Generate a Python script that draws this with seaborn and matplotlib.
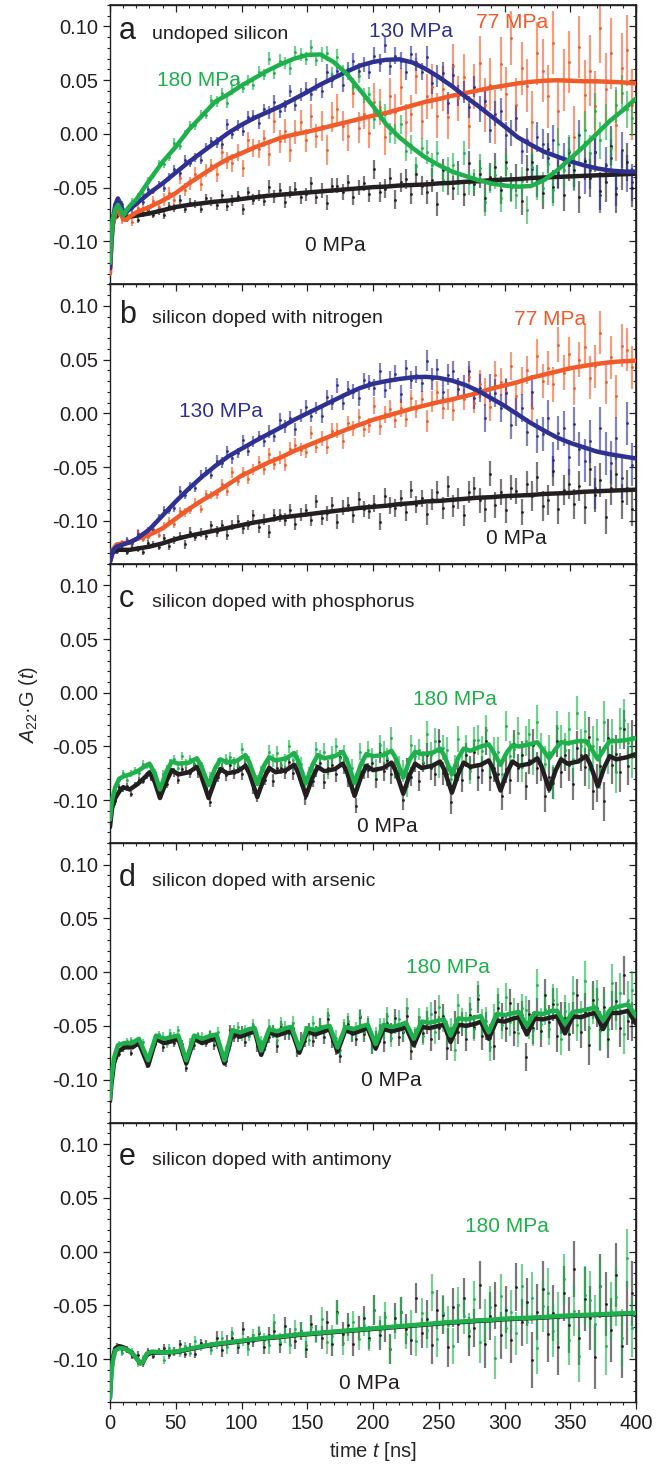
import numpy as np
import matplotlib
matplotlib.use("Agg")
import matplotlib.pyplot as plt
import seaborn as sns
from matplotlib.ticker import MultipleLocator, FormatStrFormatter, NullFormatter
from matplotlib.colors import to_rgba

# ------------------------------------------------------------------
# values, asymmetry in units of 1e-3
# ------------------------------------------------------------------
t_pts = np.arange(1, 400, 4)   # measured points of panels a, b, e
t_osc = np.arange(1, 400, 3)   # measured points of panels c, d

# ---- panel a : undoped silicon ----
t_fit_a = [0, 1, 2, 4, 6, 8, 10, 12, 15, 20] + list(range(30, 401, 10))
fit_a_black = [-125, -102, -85, -75, -71, -74, -78, -78, -77, -76,
               -74, -71, -68, -66, -64.5, -63, -62, -60.5, -59, -57.5, -56.5, -55.5, -54.5,
               -53.5, -52.5, -51.5, -50.5, -49.5, -49, -48, -47.5, -47, -46, -45.5, -44.5,
               -44, -43, -42.5, -42, -41, -40.5, -40, -39.5, -39, -38.5, -38, -37.5, -37]
fit_a_orange = [-130, -105, -85, -74, -70, -74, -79, -80, -77, -73,
                -68, -62, -55, -46, -38, -30, -23, -18, -12.5, -8, -3.5, -0.5, 2, 5, 8,
                11, 14, 17, 19.5, 23, 26.5, 30, 32.5, 35.5, 38, 40.5, 43, 45, 47, 48.5,
                49.5, 50, 49.5, 49, 49, 48.5, 48, 47]
fit_a_blue = [-125, -100, -80, -66, -60, -65, -72, -73, -70, -65,
              -55, -46, -36, -26, -17, -8, 1, 8.5, 15, 20.5, 26, 32.5, 39, 46, 52, 58,
              63.5, 67, 69, 69.5, 66.5, 60.5, 53, 44.5, 35, 26, 16.5, 7, -3, -10, -16.5,
              -21, -25.5, -29, -32, -34, -35, -35]
fit_a_green = [-120, -95, -80, -70, -66, -70, -76, -72, -67, -61,
               -43, -26, -12, 4, 17, 30, 37, 45, 52, 59, 65, 70, 73.5, 74, 67, 56, 41, 26,
               9, -3, -13, -22, -29, -35, -39, -43, -46, -48, -49, -48.5, -43, -34, -23,
               -12, 0, 12, 22, 33]

a_black = [-104, -76, -72, -79, -75, -80, -74, -71, -75, -72,
           -75, -67, -69, -61, -70, -64, -65, -70, -60, -63,
           -66, -57, -67, -62, -58, -70, -54, -61, -57, -62,
           -49, -58, -52, -63, -54, -51, -59, -56, -46, -59,
           -53, -64, -48, -48, -54, -45, -59, -50, -46, -56,
           -33, -54, -51, -41, -61, -45, -42, -56, -37, -48,
           -54, -43, -65, -34, -46, -50, -36, -56, -27, -47,
           -37, -60, -40, -31, -52, -26, -49, -41, -62, -33,
           -26, -44, -55, -14, -49, -35, -57, -29, -34, -59,
           -25, -41, -17, -53, -45, -11, -56, -34, -26, -50]
a_orange = [-107, -66, -80, -78, -82, -69, -69, -70, -62, -68,
            -61, -55, -61, -41, -52, -46, -37, -47, -34, -29,
            -37, -17, -25, -27, -17, -32, -6, -13, -14, -4,
            -19, 12, -7, 3, -15, 2, 11, -6, 17, -2,
            7, -15, 16, 23, 7, -2, 38, 6, 19, 1,
            30, 25, -3, 35, 20, 44, 11, 19, 54, 12,
            35, 44, 17, 42, 16, 63, 33, 53, 7, 44,
            66, 27, 46, 16, 65, 37, 89, 27, 61, 45,
            11, 75, 59, 35, 85, 21, 50, 67, -3, 81,
            36, 59, 26, 99, 42, 75, 8, 61, 78, 27]
a_blue = [-101, -68, -65, -72, -69, -62, -63, -51, -53, -47,
          -50, -40, -33, -36, -24, -27, -22, -24, -12, -7,
          -8, -9, 9, 0, 8, 3, 16, 17, 10, 23,
          20, 30, 21, 26, 40, 27, 37, 42, 37, 46,
          40, 58, 50, 59, 46, 60, 68, 59, 65, 58,
          73, 66, 83, 63, 73, 68, 58, 74, 67, 58,
          72, 47, 54, 57, 29, 55, 36, 39, 25, 44,
          23, 31, 4, 19, 21, -1, 1, 15, -16, -6,
          -33, -3, -9, -22, -6, -37, -22, -17, -38, -1,
          -39, -34, -17, -57, -29, -22, -50, -15, -37, -45]
a_green = [-90, -70, -72, -73, -63, -58, -56, -43, -38, -27,
           -28, -21, -8, -11, 0, 8, 8, 18, 18, 32,
           30, 38, 29, 41, 48, 43, 50, 46, 58, 55,
           70, 57, 68, 66, 61, 76, 74, 70, 81, 69,
           74, 75, 55, 72, 57, 57, 44, 54, 36, 37,
           14, 22, 19, 1, 0, 9, -16, -10, -30, -13,
           -17, -29, -18, -43, -32, -29, -46, -18, -46, -44,
           -32, -63, -42, -38, -60, -32, -50, -57, -44, -71,
           -31, -46, -50, -28, -52, -9, -34, -16, -38, -13,
           4, -18, 21, -6, 11, -13, 27, 38, 23, 15]
# error bar half-lengths per 40 ns block
err_a_black = [3, 4, 5, 6, 7, 9, 11, 13, 15, 18]
err_a_orange = [4, 6, 8, 11, 14, 17, 21, 25, 29, 33]
err_a_blue = [3, 4, 5, 6, 7, 8, 10, 12, 14, 17]
err_a_green = [3, 4, 5, 6, 7, 9, 11, 13, 15, 17]

# ---- panel b : nitrogen ----
t_fit_b = [0, 2, 5, 10, 15, 20] + list(range(30, 401, 10))
fit_b_black = [-138, -130, -127, -127, -127, -126,
               -124, -121, -117, -114, -111.5, -109, -106.5, -104, -101.5, -99.5, -97,
               -95.5, -94, -92.5, -91, -89.5, -88, -87, -86, -84.5, -83.5, -82, -81.5,
               -80.5, -79.5, -78.5, -78, -77, -76.5, -76, -75, -74.5, -74, -73, -72.5,
               -72, -71.5, -71]
fit_b_orange = [-138, -127, -122, -121, -120, -117,
                -113, -107, -98, -89, -81, -74, -66, -58, -52, -46, -41, -35, -30, -25,
                -20, -15, -10.5, -6, -2.5, 1, 4.5, 7.5, 10.5, 13, 16, 19, 23, 26, 29, 33,
                36, 39, 42, 44, 46, 47.5, 48.5, 49]
fit_b_blue = [-138, -128, -124, -122, -120, -117,
              -108, -95, -82, -70, -59, -49, -40, -33, -26, -19.5, -13, -6, 0, 6, 12, 18,
              23.5, 27.5, 30, 32, 33.5, 34, 33, 30.5, 26.5, 21, 14, 7, -1, -9, -16, -22.5,
              -27.5, -31.5, -35.5, -38, -40, -42]

b_black = [-132, -128, -122, -129, -125, -126, -129, -121, -122, -124,
           -116, -123, -118, -114, -122, -110, -115, -111, -114, -104,
           -110, -104, -113, -104, -100, -107, -104, -95, -106, -99,
           -110, -95, -95, -99, -90, -103, -94, -90, -99, -82,
           -97, -93, -85, -101, -88, -85, -95, -80, -89, -91,
           -84, -101, -77, -86, -88, -79, -92, -71, -85, -79,
           -94, -80, -73, -88, -68, -86, -79, -95, -73, -69,
           -81, -89, -56, -85, -73, -90, -69, -72, -92, -66,
           -77, -59, -86, -81, -54, -89, -71, -66, -84, -68,
           -87, -52, -76, -62, -96, -69, -56, -82, -69, -89]
b_orange = [-129, -125, -121, -119, -121, -111, -117, -115, -108, -113,
            -105, -100, -103, -91, -92, -90, -83, -89, -75, -76,
            -75, -66, -72, -55, -63, -55, -61, -52, -45, -52,
            -38, -47, -41, -48, -33, -29, -34, -36, -18, -31,
            -23, -31, -16, -16, -26, -9, -14, -3, -15, -11,
            7, -12, -1, 4, -6, 5, -5, 14, 4, 13,
            -7, 11, 20, 5, 13, 3, 23, 13, 34, 10,
            27, 20, 6, 36, 29, 20, 44, 16, 30, 40,
            5, 53, 30, 42, 27, 64, 38, 55, 24, 50,
            62, 33, 44, 75, 29, 52, 16, 63, 59, 43]
b_blue = [-131, -128, -122, -118, -121, -112, -115, -109, -109, -97,
          -90, -90, -88, -72, -76, -68, -69, -57, -54, -57,
          -44, -46, -35, -42, -37, -25, -35, -26, -21, -26,
          -17, -21, -6, -12, -4, -15, -2, 6, -2, 5,
          -2, 15, 10, 26, 10, 23, 20, 14, 31, 29,
          24, 39, 22, 31, 37, 18, 42, 31, 36, 28,
          49, 32, 41, 20, 36, 39, 23, 26, 39, 14,
          24, -4, 24, 19, 5, 19, -11, 1, 5, -17,
          20, -21, -19, -4, -43, -18, -14, -41, -10, -33,
          -44, -26, -69, -14, -37, -46, -23, -60, -9, -48]
err_b_black = [3, 4, 5, 6, 7, 8, 10, 12, 14, 16]
err_b_orange = [3, 4, 5, 6, 7, 8, 10, 13, 16, 20]
err_b_blue = [3, 4, 5, 6, 7, 8, 10, 13, 16, 20]

# ---- panel c : phosphorus ----
t_fit_c = [0, 1.5, 4, 7, 10, 15, 21, 27, 30, 34, 38,
           43, 47, 52, 60, 66, 69, 75, 80, 84, 89, 97, 103, 106, 112,
           117, 121, 126, 134, 140, 143, 149, 154, 158, 163, 171, 177, 180, 186,
           191, 195, 200, 208, 214, 217, 223, 228, 232, 237, 245, 251, 254, 260,
           265, 269, 274, 282, 288, 291, 297, 302, 306, 311, 319, 325, 328, 334,
           339, 343, 348, 356, 362, 365, 371, 376, 380, 385, 393, 400]
fit_c_black = [-125, -108, -98, -92, -88, -90, -85, -78, -74, -83, -98,
               -82, -72, -76, -74, -69, -76, -98, -81, -71, -75, -73, -68, -75, -97,
               -80, -70, -74, -72, -67, -74, -96, -79, -69, -73, -71, -66, -73, -96,
               -78, -68, -72, -70, -65, -72, -94, -76, -66, -70, -68, -64, -71, -93,
               -75, -65, -69, -67, -63, -70, -91, -74, -64, -68, -66, -61, -68, -90,
               -72, -62, -66, -64, -59, -66, -87, -69, -59, -62, -60, -57]
fit_c_green = [-118, -100, -88, -80, -78, -76, -73, -68, -66, -75, -90,
               -73, -64, -66, -65, -61, -67, -86, -70, -62, -65, -63, -58, -65, -85,
               -68, -60, -63, -61, -56, -63, -84, -67, -58, -61, -59, -55, -62, -84,
               -66, -57, -59, -58, -54, -60, -79, -62, -55, -57, -56, -52, -58, -76,
               -60, -52, -54, -50, -48, -54, -67, -55, -49, -50, -48, -46, -51, -61,
               -52, -46, -47, -45, -45, -50, -62, -52, -45, -45, -44, -42]

c_black = [-113, -101, -88, -89, -87, -94, -86, -81, -82, -77, -79, -81, -95,
           -84, -85, -72, -74, -81, -71, -73, -75, -66, -75, -80, -89, -102,
           -78, -78, -70, -77, -67, -75, -69, -76, -66, -70, -89, -97, -80, -81,
           -69, -82, -70, -70, -74, -64, -75, -70, -81, -98, -78, -82,
           -72, -65, -83, -70, -67, -76, -60, -69, -81, -86, -105, -73,
           -73, -72, -65, -80, -56, -73, -63, -76, -70, -75, -100, -70,
           -78, -65, -82, -65, -58, -70, -76, -45, -75, -76, -102, -77,
           -71, -81, -58, -70, -55, -78, -72, -45, -78, -70, -76, -96,
           -71, -81, -48, -70, -58, -87, -63, -49, -70, -67, -96, -78,
           -84, -45, -74, -58, -67, -85, -51, -58, -69, -41, -91, -84,
           -68, -101, -42, -67, -57, -74, -34, -68, -43]
c_green = [-100, -90, -81, -75, -81, -75, -72, -75, -66, -68, -70, -74, -95,
           -76, -71, -66, -62, -70, -59, -66, -62, -66, -64, -68, -83, -78,
           -76, -66, -70, -62, -60, -65, -68, -52, -61, -64, -81, -82, -73, -73,
           -55, -63, -56, -67, -63, -50, -63, -59, -66, -85, -75, -72,
           -52, -61, -55, -72, -58, -50, -61, -57, -75, -70, -83, -55,
           -68, -53, -59, -72, -49, -55, -61, -42, -70, -69, -73, -87,
           -49, -59, -53, -64, -38, -58, -45, -67, -51, -53, -80, -70,
           -43, -65, -51, -73, -44, -44, -54, -35, -65, -55, -55, -76,
           -31, -59, -52, -37, -69, -45, -38, -61, -27, -53, -66, -55,
           -83, -33, -46, -53, -34, -62, -19, -50, -36, -71, -50, -43,
           -71, -27, -57, -43, -74, -33, -25, -47, -60]
err_c_black = [3, 4, 5, 6, 7, 9, 11, 13, 15, 18]
err_c_green = [3, 4, 5, 6, 8, 10, 12, 14, 16, 19]

# ---- panel d : arsenic ----
t_fit_d = [0, 1, 3, 6, 11, 17, 22, 29,
           35, 41, 48, 52, 58, 64, 70, 77, 81, 87, 93, 99, 106, 110, 115,
           121, 127, 134, 138, 144, 150, 156, 163, 167, 173, 179, 185, 192, 196, 202,
           208, 214, 221, 225, 231, 237, 243, 250, 254, 259, 265, 271, 278, 282, 288,
           294, 300, 307, 311, 317, 323, 329, 336, 340, 346, 352, 358, 365, 369, 375,
           381, 387, 394, 400]
fit_d_black = [-120, -105, -85, -74, -70, -70, -66, -87,
               -62, -66, -64, -62, -85, -62, -66, -63, -62, -85, -57, -60, -57, -55, -77,
               -56, -59, -56, -54, -75, -55, -58, -55, -53, -74, -54, -57, -54, -52, -71,
               -53, -55, -53, -51, -68, -51, -52, -50, -49, -65, -49, -50, -48, -46, -62,
               -45, -46, -43, -42, -58, -43, -44, -42, -41, -57, -41, -42, -39, -38, -53,
               -38, -38, -36, -48]
fit_d_green = [-118, -100, -80, -68, -66, -66, -62, -82,
               -59, -62, -60, -59, -82, -59, -62, -59, -58, -82, -54, -56, -53, -52, -73,
               -53, -55, -52, -51, -71, -52, -54, -51, -50, -70, -51, -53, -50, -49, -67,
               -49, -51, -49, -47, -62, -46, -47, -45, -44, -59, -43, -44, -42, -41, -56,
               -39, -40, -38, -37, -50, -38, -39, -36, -36, -48, -37, -36, -34, -33, -45,
               -34, -32, -30, -41]

d_black = [-107, -77, -76, -71, -68, -75, -65, -67, -74, -86, -74, -67, -61,
           -70, -64, -61, -66, -62, -67, -89, -72, -68, -61, -64, -66, -59,
           -68, -66, -76, -83, -54, -60, -60, -55, -65, -56, -52, -69, -70, -68,
           -60, -55, -69, -51, -57, -57, -52, -73, -62, -64, -53, -64,
           -56, -50, -60, -44, -64, -70, -78, -53, -48, -58, -62, -42,
           -58, -50, -69, -64, -57, -65, -47, -56, -43, -60, -56, -41,
           -73, -62, -50, -57, -47, -62, -37, -52, -41, -71, -62, -47,
           -56, -48, -62, -40, -51, -25, -59, -50, -61, -69, -33, -42,
           -52, -29, -56, -42, -40, -79, -39, -52, -39, -55, -21, -46,
           -30, -59, -43, -43, -58, -43, -21, -56, -37, -68, -26, -33,
           -54, -32, -62, -36, -27, -52, -3, -45, -46]
d_green = [-96, -78, -67, -71, -64, -63, -65, -65, -65, -81, -74, -66, -58,
           -60, -67, -57, -60, -54, -74, -84, -65, -63, -60, -60, -63, -58,
           -63, -56, -77, -74, -68, -54, -51, -59, -54, -59, -49, -62, -64, -68,
           -50, -55, -63, -48, -51, -55, -47, -70, -68, -56, -63, -47,
           -56, -50, -56, -40, -58, -61, -72, -51, -45, -57, -53, -41,
           -56, -48, -69, -60, -52, -52, -41, -61, -49, -44, -55, -33,
           -62, -60, -42, -59, -43, -39, -56, -32, -45, -56, -54, -72,
           -31, -44, -48, -34, -53, -21, -47, -45, -70, -43, -28, -49,
           -23, -46, -37, -57, -33, -35, -49, -54, -12, -48, -34, -53,
           -26, -30, -62, -36, -44, -19, -49, -42, -8, -52, -30, -25,
           -55, -36, -53, -10, -36, -19, -58, -26, -17]
err_d_black = [3, 4, 5, 6, 7, 9, 11, 13, 15, 18]
err_d_green = [3, 4, 5, 6, 7, 9, 11, 13, 15, 18]

# ---- panel e : antimony ----
t_fit_e = [0, 1, 2, 4, 7, 10, 14, 17, 20, 23, 25, 28, 32, 40] + list(range(50, 401, 10))
fit_e_black = [-136, -112, -100, -90, -88, -89, -92, -95, -99, -104, -103, -96, -94, -94,
               -93.5, -91, -88.5, -86.5, -85, -83.5, -82, -80.5, -79.5, -78, -77, -76,
               -75, -74, -73, -72, -71, -70, -69, -68, -67, -66, -65.5, -64.5, -64, -63,
               -62.5, -62, -61.5, -60.5, -60, -59.5, -59, -58.5, -58, -57.5]
fit_e_green = [-136, -114, -103, -92, -90, -90, -92, -95, -99, -104, -103, -95, -93, -94,
               -93, -90.5, -88, -86, -84.5, -83, -81.5, -80, -79, -77.5, -76.5, -75.5,
               -74.5, -73.5, -72.5, -71.5, -70.5, -69.5, -68.5, -67.5, -66.5, -65.5, -65,
               -64, -63.5, -62.5, -62, -61.5, -61, -60, -59.5, -59, -58.5, -58, -57.5, -57]

e_black = [-119, -88, -91, -91, -97, -96, -104, -93, -97, -93,
           -90, -96, -93, -86, -95, -89, -95, -85, -86, -88,
           -80, -92, -84, -80, -89, -72, -85, -83, -76, -89,
           -78, -74, -86, -69, -79, -83, -74, -91, -67, -76,
           -80, -66, -86, -56, -77, -68, -86, -71, -62, -80,
           -54, -78, -70, -91, -62, -56, -72, -82, -43, -76,
           -63, -87, -54, -59, -89, -52, -67, -43, -79, -71,
           -31, -86, -60, -50, -78, -54, -82, -33, -66, -47,
           -101, -56, -35, -77, -57, -89, -39, -68, -16, -80,
           -44, -62, -98, -32, -49, -73, -22, -88, -57, -39]
e_green = [-115, -88, -94, -91, -93, -104, -99, -95, -95, -93,
           -101, -90, -93, -94, -88, -94, -83, -89, -86, -92,
           -85, -80, -89, -76, -87, -82, -91, -78, -75, -82,
           -87, -66, -84, -77, -87, -72, -74, -87, -70, -77,
           -63, -84, -79, -57, -85, -72, -66, -81, -68, -82,
           -54, -74, -61, -91, -67, -56, -77, -68, -83, -57,
           -73, -38, -81, -57, -68, -88, -50, -60, -74, -44,
           -84, -64, -52, -99, -41, -71, -56, -76, -32, -66,
           -43, -90, -51, -39, -74, -62, -26, -82, -55, -97,
           -40, -45, -67, -32, -88, -55, -42, -80, -6, -71]
err_e_black = [3, 4, 6, 8, 11, 14, 18, 22, 26, 30]
err_e_green = [3, 4, 6, 8, 11, 14, 17, 20, 24, 27]

# ------------------------------------------------------------------
BLACK = "#231f20"
ORANGE = "#f15a29"
BLUE = "#2e3192"
GREEN = "#1db04b"

panels = [
    dict(letter="a", title="undoped silicon", base=0.088, t=t_pts,
         series=[(a_black, err_a_black, t_fit_a, fit_a_black, BLACK),
                 (a_orange, err_a_orange, t_fit_a, fit_a_orange, ORANGE),
                 (a_blue, err_a_blue, t_fit_a, fit_a_blue, BLUE),
                 (a_green, err_a_green, t_fit_a, fit_a_green, GREEN)],
         labels=[("180 MPa", 68, 0.050, GREEN), ("130 MPa", 229, 0.095, BLUE),
                 ("77 MPa", 306, 0.104, ORANGE), ("0 MPa", 171, -0.104, BLACK)]),
    dict(letter="b", title="silicon doped with nitrogen", base=0.084, t=t_pts,
         series=[(b_black, err_b_black, t_fit_b, fit_b_black, BLACK),
                 (b_orange, err_b_orange, t_fit_b, fit_b_orange, ORANGE),
                 (b_blue, err_b_blue, t_fit_b, fit_b_blue, BLUE)],
         labels=[("130 MPa", 84, 0.0015, BLUE), ("77 MPa", 335, 0.087, ORANGE),
                 ("0 MPa", 309, -0.116, BLACK)]),
    dict(letter="c", title="silicon doped with phosphorus", base=0.080, t=t_osc,
         series=[(c_black, err_c_black, t_fit_c, fit_c_black, BLACK),
                 (c_green, err_c_green, t_fit_c, fit_c_green, GREEN)],
         labels=[("180 MPa", 262, -0.006, GREEN), ("0 MPa", 211, -0.124, BLACK)]),
    dict(letter="d", title="silicon doped with arsenic", base=0.080, t=t_osc,
         series=[(d_black, err_d_black, t_fit_d, fit_d_black, BLACK),
                 (d_green, err_d_green, t_fit_d, fit_d_green, GREEN)],
         labels=[("180 MPa", 257, 0.004, GREEN), ("0 MPa", 214, -0.101, BLACK)]),
    dict(letter="e", title="silicon doped with antimony", base=0.081, t=t_pts,
         series=[(e_black, err_e_black, t_fit_e, fit_e_black, BLACK),
                 (e_green, err_e_green, t_fit_e, fit_e_green, GREEN)],
         labels=[("180 MPa", 302, 0.023, GREEN), ("0 MPa", 197, -0.123, BLACK)]),
]

sns.set_theme(style="ticks")
plt.rcParams["font.family"] = ["Liberation Sans", "DejaVu Sans"]
plt.rcParams["mathtext.fontset"] = "custom"
plt.rcParams["mathtext.rm"] = "Liberation Sans"
plt.rcParams["mathtext.it"] = "Liberation Sans:italic"
plt.rcParams["axes.unicode_minus"] = False

W, H = 672, 1470
fig = plt.figure(figsize=(W / 100, H / 100), dpi=100)
left, right = 110 / W, 636 / W
ph = 279.4 / H
bottom0 = (H - 1402) / H

axes = []
for i, p in enumerate(panels):
    ax = fig.add_axes([left, bottom0 + (4 - i) * ph, right - left, ph])
    axes.append(ax)

    # measured points with error bars
    for y, eb, _, _, col in p["series"]:
        yv = np.array(y) / 1000
        err = np.array(eb)[p["t"] // 40] / 1000
        ax.errorbar(p["t"], yv, yerr=err, fmt="o", ms=2.0, mfc=col, mec=col, mew=0,
                    ecolor=to_rgba(col, 0.6), elinewidth=1.6, capsize=0, zorder=2)
    # fit curves
    for _, _, tf, yf, col in p["series"]:
        sns.lineplot(x=tf, y=np.array(yf) / 1000, ax=ax, color=col, lw=3.2,
                     estimator=None, zorder=3)

    for txt, tx, ty, col in p["labels"]:
        ax.text(tx, ty, txt, color=col, fontsize=15, ha="center", va="center", zorder=5)
    ax.text(7, p["base"], p["letter"], fontsize=22, ha="left", va="baseline", color=BLACK)
    ax.text(32, p["base"], p["title"], fontsize=14, ha="left", va="baseline", color=BLACK)

    ax.set_xlim(0, 400)
    ax.set_ylim(-0.14, 0.12)
    ax.set_xlabel("")
    ax.set_ylabel("")
    ax.xaxis.set_major_locator(MultipleLocator(50))
    ax.xaxis.set_minor_locator(MultipleLocator(10))
    ax.yaxis.set_major_locator(MultipleLocator(0.05))
    ax.yaxis.set_minor_locator(MultipleLocator(0.01))
    ax.yaxis.set_major_formatter(FormatStrFormatter("%.2f"))
    ax.tick_params(which="major", direction="out", length=5, width=0.9,
                   labelsize=14.5, colors=BLACK)
    ax.tick_params(which="minor", direction="out", length=2.5, width=0.8, colors=BLACK)
    if i < 4:
        ax.tick_params(labelbottom=False)
    for s in ax.spines.values():
        s.set_linewidth(1.0)
        s.set_color(BLACK)

    # mirrored ticks pointing inward on top and right
    top = ax.secondary_xaxis("top")
    top.xaxis.set_major_locator(MultipleLocator(50))
    top.xaxis.set_minor_locator(MultipleLocator(10))
    top.xaxis.set_major_formatter(NullFormatter())
    top.tick_params(which="major", direction="in", length=5, width=0.9)
    top.tick_params(which="minor", direction="in", length=2.5, width=0.8)
    rgt = ax.secondary_yaxis("right")
    rgt.yaxis.set_major_locator(MultipleLocator(0.05))
    rgt.yaxis.set_minor_locator(MultipleLocator(0.01))
    rgt.yaxis.set_major_formatter(NullFormatter())
    rgt.tick_params(which="major", direction="in", length=5, width=0.9)
    rgt.tick_params(which="minor", direction="in", length=2.5, width=0.8)

axes[-1].set_xlabel("time $t$ [ns]", fontsize=14.5, labelpad=5)
fig.text(0.043, 1 - 705 / H, r"$A_{22}$·G ($t$)", rotation=90, ha="center",
         va="center", fontsize=14.5)

fig.savefig("out.png", dpi=100)
